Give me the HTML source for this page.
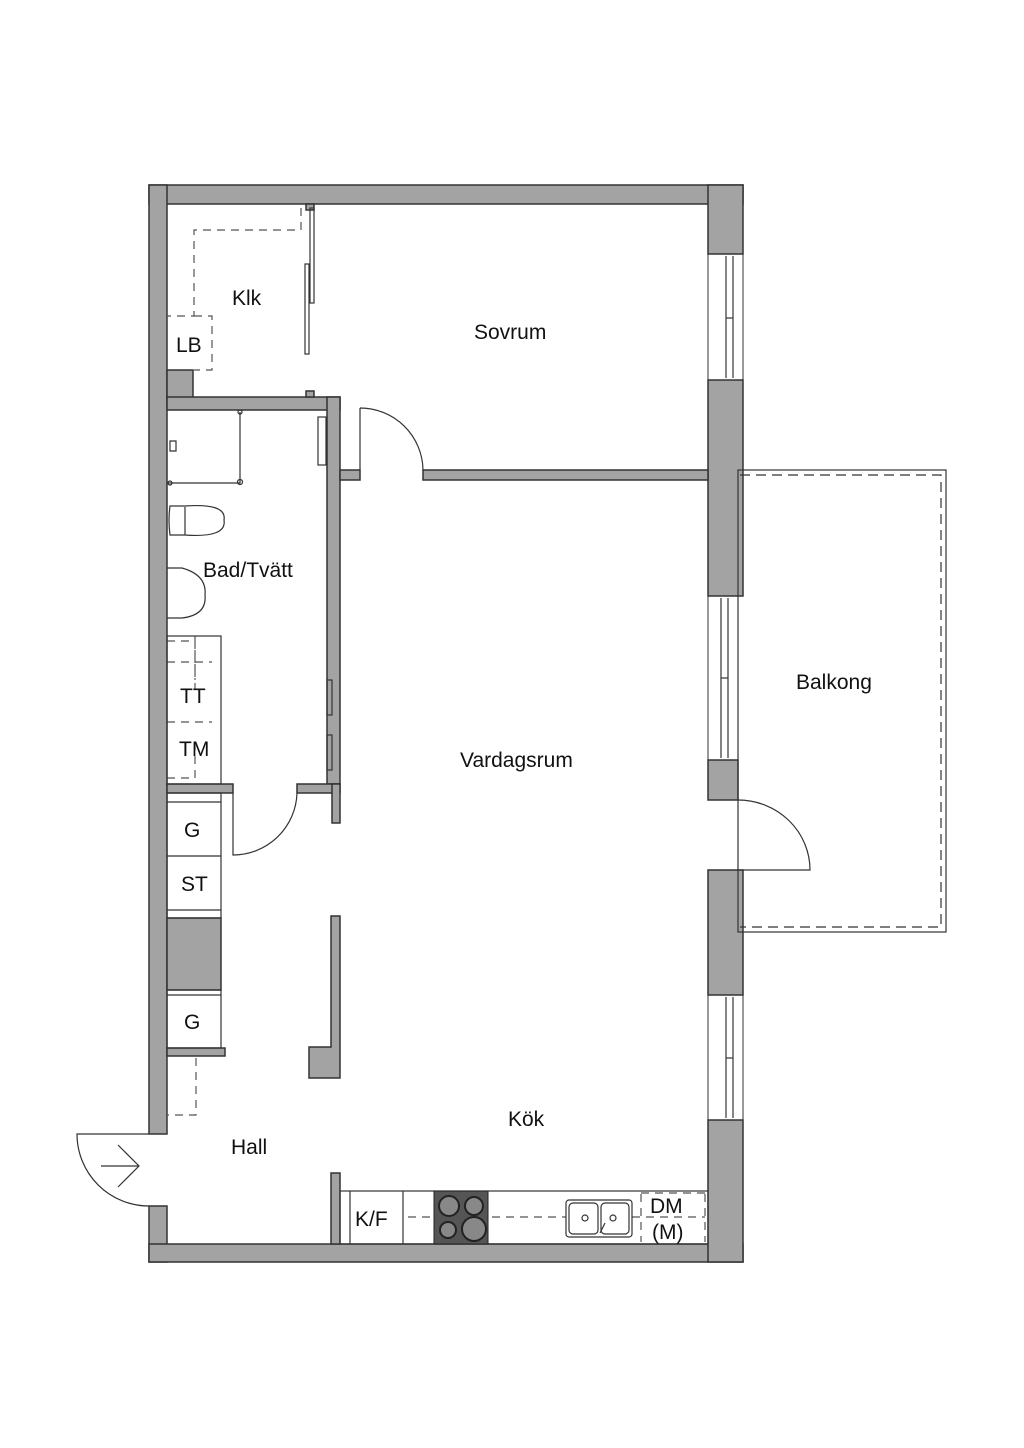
<!DOCTYPE html>
<html><head><meta charset="utf-8"><style>
html,body{margin:0;padding:0;background:#fff}
svg{display:block}
text{font-family:"Liberation Sans",sans-serif;font-size:21px;fill:#111}
</style></head><body>
<svg width="1024" height="1448" viewBox="0 0 1024 1448" xmlns="http://www.w3.org/2000/svg">
<g fill="#a3a3a3" stroke="#333" stroke-width="1.5">
<rect x="149" y="185" width="594" height="19"/>
<rect x="149" y="185" width="18" height="949"/>
<rect x="149" y="1206" width="18" height="56"/>
<rect x="149" y="1244" width="594" height="18"/>
<rect x="708" y="185" width="35" height="69"/>
<rect x="708" y="380" width="35" height="216"/>
<rect x="708" y="760" width="30" height="40"/>
<rect x="708" y="870" width="35" height="125"/>
<rect x="708" y="1120" width="35" height="142"/>
<rect x="167" y="370" width="26" height="30"/>
<rect x="167" y="397" width="173" height="13"/>
<rect x="327" y="397" width="13" height="387"/>
<rect x="297" y="784" width="43" height="9"/>
<rect x="332" y="784" width="8" height="39"/>
<rect x="167" y="784" width="66" height="9"/>
<rect x="340" y="470" width="20" height="10"/>
<rect x="423" y="470" width="285" height="10"/>
<rect x="167" y="918" width="54" height="72"/>
<rect x="167" y="1048" width="58" height="8"/>
<path d="M331 916 H340 V1078 H309 V1047 H331 Z"/>
<rect x="331" y="1173" width="9" height="71"/>
<rect x="306" y="204" width="8" height="6"/>
<rect x="306" y="391" width="8" height="6"/>
</g>
<g fill="none" stroke="#333" stroke-width="1.2">
<rect x="310" y="208" width="4" height="95"/>
<rect x="305" y="264" width="4" height="90"/>
<rect x="708" y="254" width="35" height="126" stroke-width="1"/>
<line x1="726" y1="256" x2="726" y2="378"/><line x1="733" y1="256" x2="733" y2="378"/>
<line x1="726" y1="318" x2="733" y2="318"/>
<rect x="708" y="596" width="30" height="164" stroke-width="1"/>
<line x1="721" y1="598" x2="721" y2="758"/><line x1="728" y1="598" x2="728" y2="758"/>
<line x1="721" y1="678" x2="728" y2="678"/>
<rect x="708" y="995" width="35" height="125" stroke-width="1"/>
<line x1="726" y1="997" x2="726" y2="1118"/><line x1="733" y1="997" x2="733" y2="1118"/>
<line x1="726" y1="1058" x2="733" y2="1058"/>
<rect x="738" y="470" width="208" height="462"/>
<path d="M740 475 H941 V927 H740" stroke-dasharray="10 6"/>
<path d="M360 408 A63 63 0 0 1 423 470 M360 408 V470"/>
<path d="M233 793 V855 A64 64 0 0 0 297 793"/>
<path d="M738 800 A72 70 0 0 1 810 870 H738"/>
<path d="M149 1134 H77 A72 72 0 0 0 149 1206"/>
<path d="M101 1166 H139 M118 1145 L139 1166 L118 1187"/>
<g stroke="#555" stroke-dasharray="8 6">
<path d="M301 208 V230 H194 V316 H167 M194 316 H212 V370 H194"/>
<path d="M167 641 H195 V690 M195 636 V680 M167 662 H212 M167 722 H212 M167 778 H195 V740"/>
<path d="M196 1058 V1115 H167"/>
<path d="M408 1217 H705"/>
<path d="M641 1194 V1242 M705 1194 V1242 M641 1193 H705"/>
</g>
<path d="M167 483 H240 V412"/>
<circle cx="240" cy="412" r="2"/><circle cx="240" cy="482" r="2.5"/><circle cx="170" cy="483" r="2"/>
<rect x="318" y="417" width="8" height="48"/>
<path d="M170 506 Q168 520 170 535 H185 Q227 538 224 520 Q227 503 185 506 Z"/>
<line x1="185" y1="507" x2="185" y2="535"/>
<path d="M167 568 H182 Q207 575 205 595 Q207 615 182 618 H167"/>
<path d="M170 441 h6 v10 h-6 z"/>
<rect x="167" y="636" width="54" height="148"/>
<rect x="167" y="793" width="54" height="125"/>
<line x1="167" y1="802" x2="221" y2="802"/><line x1="167" y1="856" x2="221" y2="856"/><line x1="167" y1="910" x2="221" y2="910"/>
<rect x="167" y="990" width="54" height="58"/><line x1="167" y1="995" x2="221" y2="995"/>
<rect x="327" y="680" width="5" height="35"/><rect x="327" y="735" width="5" height="35"/>
<rect x="340" y="1191" width="368" height="53"/>
<line x1="350" y1="1191" x2="350" y2="1244"/><line x1="403" y1="1191" x2="403" y2="1244"/>
<rect x="566" y="1200" width="66" height="37" rx="3" fill="#fff"/>
<rect x="569" y="1203" width="29" height="31" rx="4"/><rect x="601" y="1203" width="28" height="31" rx="4"/>
<circle cx="585" cy="1218" r="3"/><circle cx="613" cy="1218" r="3"/>
<line x1="600" y1="1233" x2="605" y2="1223"/>
</g>
<rect x="434" y="1191" width="54" height="53" fill="#555" stroke="#222"/>
<g fill="#888" stroke="#222" stroke-width="2">
<circle cx="449" cy="1206" r="10"/><circle cx="474" cy="1206" r="9"/>
<circle cx="448" cy="1230" r="8"/><circle cx="474" cy="1229" r="12"/>
</g>
<g>
<text x="232" y="305">Klk</text>
<text x="176" y="352">LB</text>
<text x="474" y="339">Sovrum</text>
<text x="203" y="577">Bad/Tvätt</text>
<text x="180" y="703">TT</text>
<text x="179" y="756">TM</text>
<text x="184" y="837">G</text>
<text x="181" y="891">ST</text>
<text x="184" y="1029">G</text>
<text x="796" y="689">Balkong</text>
<text x="460" y="767">Vardagsrum</text>
<text x="508" y="1126">Kök</text>
<text x="231" y="1154">Hall</text>
<text x="355" y="1226">K/F</text>
<text x="650" y="1213">DM</text>
<text x="652" y="1239">(M)</text>
</g>
</svg>
</body></html>
